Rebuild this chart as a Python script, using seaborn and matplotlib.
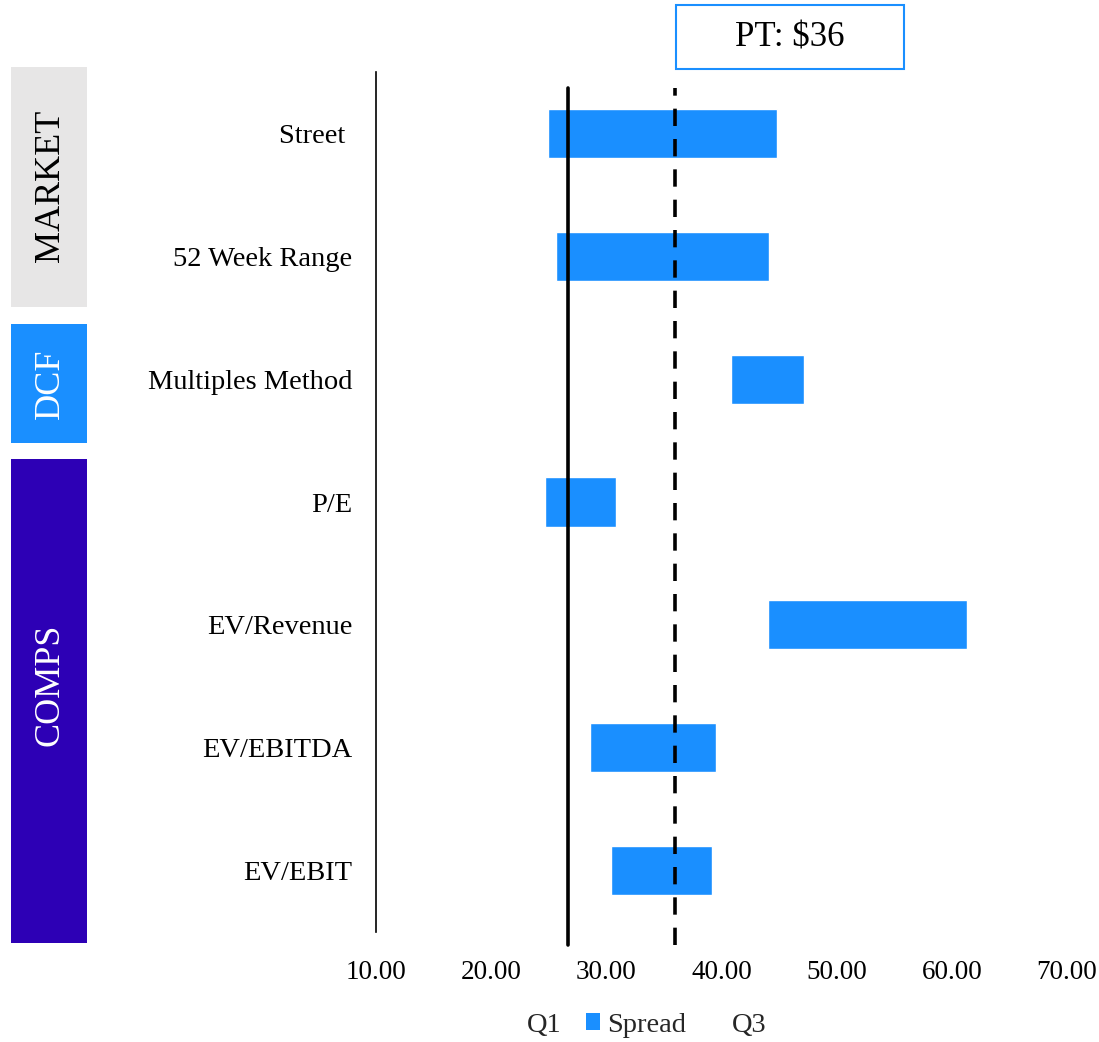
import matplotlib
matplotlib.use("Agg")
import matplotlib.pyplot as plt
from matplotlib.patches import Patch, Rectangle
import seaborn as sns
import pandas as pd

# Valuation ranges (low end and high end of each method)
methods = ["Street ", "52 Week Range", "Multiples Method", "P/E",
           "EV/Revenue", "EV/EBITDA", "EV/EBIT"]
low = [24.9, 25.6, 40.8, 24.7, 44.0, 28.6, 30.4]
high = [44.8, 44.1, 47.2, 30.8, 61.3, 39.5, 39.2]
current_price = 26.7
price_target = 36
xticks = [10, 20, 30, 40, 50, 60, 70]

groups = ["MARKET", "DCF", "COMPS"]

BLUE = "#1A8FFF"
PURPLE = "#2D00B5"
GREY = "#E7E6E6"
FONT = ["Liberation Serif", "DejaVu Serif"]

sns.set_theme(style="white")
plt.rcParams["font.family"] = FONT

df = pd.DataFrame({"method": methods, "low": low, "high": high})
df["spread"] = df["high"] - df["low"]

fig = plt.figure(figsize=(10.99, 10.42), dpi=100)
ax = fig.add_axes([376 / 1099, 1 - 932 / 1042, 691 / 1099, 860 / 1042])

sns.barplot(data=df, x="spread", y="method", orient="h", left=df["low"],
            color=BLUE, saturation=1, width=0.4, ax=ax)

ax.axvline(current_price, ymin=-0.015, ymax=0.981, color="black",
           lw=2.6, clip_on=False, zorder=3)
ax.axvline(price_target, ymin=-0.015, ymax=0.981, color="black",
           lw=2.6, ls=(0, (4.8, 3.6)), clip_on=False, zorder=3)

ax.set_xlim(10, 70)
ax.set_ylim(6.5, -0.5)
ax.set_xticks(xticks)
ax.set_xticklabels([f"{t:.2f}" for t in xticks])
ax.set_xlabel("")
ax.set_ylabel("")
ax.tick_params(axis="x", length=0, pad=20, labelsize=19.5, labelcolor="black")
ax.tick_params(axis="y", length=0, pad=17, labelsize=20.5, labelcolor="black")
for s in ["top", "right", "bottom"]:
    ax.spines[s].set_visible(False)
ax.spines["left"].set_color("black")
ax.spines["left"].set_linewidth(1.2)

# Price target box
fig.patches.append(Rectangle((676 / 1099, 1 - 69 / 1042), 228 / 1099, 64 / 1042,
                             transform=fig.transFigure, facecolor="white",
                             edgecolor=BLUE, lw=1.5))
fig.text(790 / 1099, 1 - 38 / 1042, "PT: \\$36", ha="center", va="center",
         fontsize=25, color="black")

# Group side panels
panels = [(67, 307, GREY, "black", 186),
          (324, 443, BLUE, "white", 384),
          (459, 943, PURPLE, "white", 685)]
for name, (y0, y1, fc, tc, yc) in zip(groups, panels):
    fig.patches.append(Rectangle((11 / 1099, 1 - y1 / 1042), 76 / 1099,
                                 (y1 - y0) / 1042, transform=fig.transFigure,
                                 facecolor=fc, edgecolor="none"))
    fig.text(50 / 1099, 1 - yc / 1042, name, rotation=90, ha="center",
             va="center", fontsize=26, color=tc)

handles = [Patch(facecolor="none", edgecolor="none"),
           Patch(facecolor=BLUE, edgecolor="none"),
           Patch(facecolor="none", edgecolor="none")]
fig.legend(handles, ["Q1", "Spread", "Q3"], loc="center",
           bbox_to_anchor=(636 / 1099, 1 - 1025 / 1042), ncol=3, frameon=False,
           fontsize=20.5, handlelength=0.5, handleheight=0.55,
           handletextpad=0.25, columnspacing=0.85)

fig.savefig("out.png", dpi=100)
